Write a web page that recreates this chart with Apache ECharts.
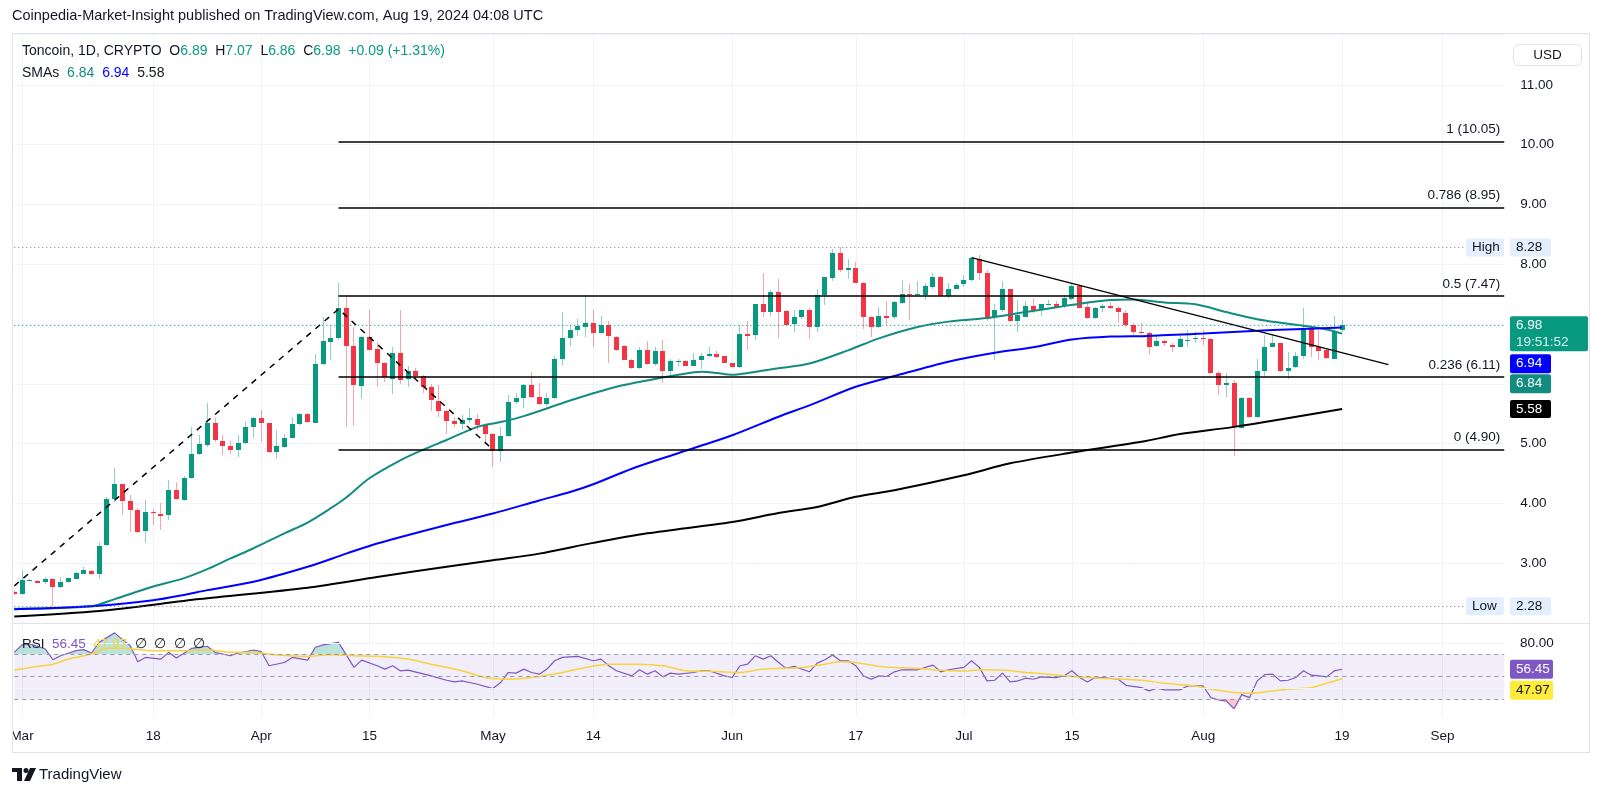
<!DOCTYPE html>
<html><head><meta charset="utf-8">
<script src="https://cdn.jsdelivr.net/npm/echarts@6/dist/echarts.min.js"></script>
<style>html,body{margin:0;padding:0;background:#fff}#c{width:1600px;height:796px}</style>
</head><body><div id="c"></div>
<script>
// ---------- DATA ----------
// day index: 0 = 2024-03-01 ; first candle is day -1 (Feb 29)
const firstDay = -1;
const opens  = [2.52,2.48,2.71,2.71,2.68,2.73,2.60,2.68,2.74,2.83,2.87,2.82,3.30,4.07,4.32,4.04,3.89,3.53,3.85,3.83,3.80,4.22,4.06,4.42,4.82,4.98,5.34,5.05,4.96,4.89,5.00,5.27,5.42,5.34,4.86,4.95,5.10,5.33,5.49,5.35,6.33,6.70,6.76,7.26,6.63,5.97,6.79,6.58,6.34,6.08,6.52,6.08,6.22,6.13,5.94,5.72,5.55,5.38,5.33,5.39,5.41,5.31,5.16,4.88,5.13,5.69,5.76,5.98,5.78,5.66,5.76,6.41,6.76,6.90,6.95,7.01,6.85,6.98,6.79,6.64,6.40,6.26,6.56,6.33,6.55,6.22,6.36,6.38,6.30,6.40,6.47,6.50,6.46,6.34,6.27,6.84,6.81,7.33,7.20,7.54,7.22,6.99,7.11,7.23,6.94,7.48,7.78,8.19,7.91,7.94,7.69,7.12,6.95,7.14,7.11,7.36,7.51,7.49,7.48,7.63,7.79,7.48,7.59,7.66,7.73,8.09,7.86,7.11,7.23,7.58,7.05,7.12,7.30,7.23,7.33,7.34,7.29,7.43,7.64,7.28,7.10,7.26,7.30,7.26,7.19,6.99,6.87,6.85,6.62,6.71,6.65,6.62,6.72,6.74,6.77,6.75,6.18,5.98,6.01,5.27,5.77,5.45,6.22,6.62,6.68,6.22,6.27,6.46,6.93,6.62,6.56,6.42,6.89];
const closes = [2.49,2.72,2.72,2.68,2.73,2.60,2.69,2.75,2.84,2.89,2.82,3.29,4.07,4.32,4.03,3.89,3.53,3.85,3.83,3.80,4.22,4.07,4.43,4.82,4.99,5.34,5.05,4.96,4.89,5.01,5.27,5.42,5.34,4.85,4.96,5.10,5.33,5.49,5.35,6.33,6.71,6.77,7.26,6.63,5.97,6.79,6.58,6.34,6.11,6.52,6.07,6.22,6.13,5.94,5.72,5.55,5.38,5.33,5.40,5.42,5.31,5.16,4.88,5.13,5.70,5.76,5.98,5.78,5.66,5.76,6.41,6.76,6.90,6.97,7.01,6.85,6.99,6.79,6.58,6.40,6.26,6.56,6.33,6.55,6.22,6.38,6.38,6.30,6.40,6.47,6.50,6.45,6.35,6.27,6.83,6.81,7.33,7.20,7.54,7.20,6.99,7.11,7.23,6.94,7.48,7.78,8.19,7.91,7.94,7.69,7.12,6.95,7.13,7.11,7.36,7.51,7.49,7.51,7.63,7.79,7.48,7.59,7.66,7.73,8.10,7.86,7.11,7.23,7.58,7.05,7.15,7.30,7.23,7.33,7.34,7.29,7.43,7.64,7.28,7.10,7.26,7.30,7.26,7.19,6.99,6.87,6.85,6.62,6.71,6.68,6.62,6.75,6.74,6.76,6.75,6.18,5.98,6.01,5.27,5.77,5.45,6.22,6.62,6.68,6.22,6.27,6.46,6.93,6.62,6.56,6.42,6.89,6.98];
const lows   = [2.47,2.46,2.70,2.67,2.66,2.28,2.58,2.67,2.73,2.82,2.80,2.73,3.28,4.03,3.80,3.53,3.50,3.33,3.64,3.55,3.72,4.06,4.04,4.40,4.81,4.94,5.03,4.81,4.82,4.78,4.99,5.10,5.02,4.84,4.74,4.93,5.09,5.31,5.34,5.34,6.31,6.40,6.73,5.28,5.29,5.74,6.56,5.94,6.03,5.83,6.00,5.95,6.09,5.84,5.55,5.45,5.16,5.28,5.23,5.34,5.23,5.00,4.61,4.70,5.11,5.67,5.59,5.76,5.64,5.63,5.74,6.31,6.63,6.80,6.78,6.61,6.83,6.35,6.55,6.39,6.25,6.24,6.31,6.29,6.02,6.09,6.30,6.30,6.30,6.24,6.45,6.44,6.34,6.27,6.27,6.56,6.73,7.12,7.13,6.76,6.98,6.86,7.09,6.75,6.87,7.32,7.72,7.87,7.76,7.68,6.91,6.78,6.94,6.98,7.09,7.34,7.07,7.48,7.40,7.59,7.47,7.43,7.58,7.62,7.72,7.73,7.05,6.40,7.20,7.04,6.87,7.11,7.19,7.14,7.32,7.28,7.26,7.40,7.26,7.09,7.09,7.20,7.25,7.01,6.95,6.81,6.84,6.48,6.61,6.63,6.54,6.61,6.62,6.68,6.65,6.17,5.81,5.78,4.79,5.25,5.42,5.42,6.11,6.61,6.20,6.08,6.26,6.41,6.45,6.40,6.41,6.42,6.86];
const highs  = [2.55,2.88,2.73,2.72,2.77,2.75,2.77,2.76,2.86,2.93,2.89,3.35,4.11,4.60,4.33,4.14,3.93,4.06,3.90,4.00,4.39,4.36,4.46,5.28,5.15,5.68,5.42,5.14,5.05,5.14,5.38,5.45,5.56,5.35,5.23,5.16,5.45,5.52,5.52,6.50,7.11,6.97,7.68,7.48,6.95,6.80,7.23,6.70,6.36,6.62,7.24,6.29,6.26,6.14,6.00,5.98,5.56,5.45,5.48,5.59,5.50,5.32,5.17,5.27,5.81,5.84,5.99,6.20,6.01,5.84,6.46,7.20,6.98,7.08,7.48,7.23,7.13,7.05,6.80,6.65,6.41,6.62,6.72,6.62,6.73,6.42,6.41,6.39,6.51,6.51,6.61,6.55,6.47,6.35,6.99,7.05,7.34,7.86,7.57,7.76,7.23,7.23,7.24,7.26,7.58,7.79,8.26,8.28,8.08,8.04,7.71,7.13,7.28,7.39,7.39,7.73,7.67,7.72,7.68,7.86,7.80,7.68,7.69,7.82,8.11,8.15,7.91,7.34,7.72,7.59,7.40,7.38,7.44,7.34,7.40,7.39,7.48,7.68,7.66,7.37,7.29,7.33,7.37,7.30,7.23,7.02,7.01,6.86,6.80,6.73,6.68,6.81,6.90,6.87,6.90,6.76,6.22,6.18,6.06,5.78,5.78,6.42,6.81,6.84,6.69,6.54,6.54,7.26,6.94,6.90,6.58,7.13,7.07];

// moving averages: [day, value]
const sma50 = [[-1,2.24],[9,2.28],[12,2.40],[17,2.61],[21,2.75],[24,2.90],[27,3.08],[30,3.25],[34,3.50],[37,3.68],[40,3.92],[42,4.10],[45,4.42],[49,4.72],[52,4.90],[55,5.06],[59,5.28],[62,5.36],[65,5.46],[71,5.72],[77,5.95],[82,6.08],[85,6.15],[88,6.20],[90,6.18],[92,6.15],[94,6.18],[98,6.26],[102,6.34],[107,6.56],[111,6.76],[116,6.95],[120,7.04],[125,7.10],[130,7.20],[134,7.28],[137,7.34],[141,7.40],[144,7.41],[148,7.36],[152,7.33],[156,7.20],[160,7.08],[163,7.02],[166,6.97],[169,6.91],[171,6.84]];
const sma100 = [[-1,2.23],[10,2.29],[17,2.38],[21,2.47],[24,2.55],[30,2.69],[37,2.94],[42,3.16],[46,3.33],[55,3.64],[61,3.83],[67,4.05],[71,4.19],[74,4.32],[79,4.58],[85,4.84],[92,5.14],[98,5.45],[102,5.64],[108,5.95],[113,6.13],[120,6.37],[126,6.52],[131,6.61],[136,6.74],[141,6.79],[146,6.80],[153,6.84],[162,6.90],[171,6.94]];
const sma200 = [[-1,2.11],[10,2.20],[23,2.40],[37,2.59],[46,2.77],[55,2.94],[61,3.05],[67,3.16],[74,3.34],[81,3.50],[92,3.69],[98,3.84],[103,3.94],[108,4.11],[113,4.22],[122,4.47],[128,4.67],[136,4.85],[145,5.03],[150,5.16],[157,5.28],[171,5.58]];

// RSI and its MA: [day, value]
const rsiPts = [[-1,71.5],[0,78.1],[1,79.0],[2,76.9],[3,74.5],[4,64.9],[5,68.5],[7,73.0],[8,73.9],[9,70.9],[10,80.4],[12,88.8],[13,82.8],[14,77.5],[15,63.1],[16,67.0],[18,65.5],[19,71.5],[20,66.4],[22,75.1],[24,76.9],[25,71.5],[27,68.5],[28,70.9],[30,73.6],[31,72.1],[32,59.6],[34,62.5],[35,67.0],[37,64.6],[38,76.0],[39,78.1],[41,80.4],[43,58.1],[44,64.6],[46,59.6],[47,56.6],[48,59.6],[49,55.1],[50,55.7],[53,50.6],[55,46.7],[56,45.2],[57,46.1],[59,43.1],[61,39.3],[62,44.6],[63,53.6],[64,53.0],[65,56.6],[66,53.6],[67,52.1],[68,56.6],[69,64.0],[70,67.0],[72,67.9],[74,64.0],[75,65.5],[76,59.6],[77,55.1],[79,50.6],[80,56.0],[81,52.1],[82,55.1],[83,49.7],[84,53.0],[85,52.1],[87,53.6],[88,55.1],[89,55.1],[91,50.6],[92,49.1],[93,59.6],[94,61.0],[95,68.5],[96,65.5],[97,68.5],[98,62.5],[99,57.2],[100,59.0],[102,54.2],[103,61.9],[104,64.9],[105,69.1],[106,64.0],[107,64.0],[108,59.6],[109,50.6],[110,47.6],[111,50.6],[112,50.0],[113,54.2],[114,56.0],[116,56.0],[118,60.1],[119,54.2],[120,56.0],[122,58.1],[123,64.0],[124,58.1],[125,46.1],[126,46.7],[127,53.0],[128,45.2],[129,46.1],[130,48.5],[131,47.6],[132,49.7],[134,49.1],[135,50.6],[136,55.1],[137,49.1],[138,45.2],[139,49.1],[140,49.1],[142,47.6],[143,42.2],[145,40.1],[146,37.2],[147,39.6],[148,38.1],[150,38.1],[151,41.6],[153,41.6],[154,31.2],[155,29.1],[156,28.2],[157,21.3],[158,33.9],[159,31.2],[160,46.1],[161,51.8],[162,52.1],[163,46.1],[164,46.7],[165,49.1],[166,55.1],[167,51.2],[168,50.6],[169,49.7],[170,55.1],[171,56.45]];
const rsiMaPts = [[-1,55.7],[1,58.1],[4,61.0],[6,65.5],[9,70.0],[11,75.1],[13,75.1],[17,73.0],[21,73.0],[24,73.9],[27,71.5],[30,71.5],[33,69.1],[37,67.9],[40,69.4],[43,68.5],[47,67.6],[50,65.5],[53,61.0],[57,55.1],[60,49.1],[63,47.6],[66,49.1],[70,53.6],[73,58.1],[76,61.0],[80,61.0],[83,59.6],[86,55.1],[90,54.5],[93,53.6],[96,56.6],[101,58.1],[104,61.0],[106,63.1],[108,62.5],[111,59.0],[116,57.2],[118,56.0],[122,54.8],[124,56.0],[127,55.7],[130,53.6],[133,52.1],[135,50.6],[138,49.1],[141,48.2],[145,46.7],[148,44.0],[152,41.6],[154,38.7],[157,35.7],[159,35.1],[162,37.2],[164,38.7],[167,40.1],[169,44.0],[171,47.97]];

// fib levels and drawings
const fibLevels = [1, 0.786, 0.5, 0.236, 0];
const fibPrices = [10.05, 8.95, 7.47, 6.11, 4.90];
const fibStartDay = 41;
const zigzag = [[-1,2.62],[41,7.25],[61,4.90]];
const trendLine = [[123,8.11],[177,6.32]];
const highPrice = 8.28, lowPrice = 2.28, lastPrice = 6.98;

// axis ticks
const tickDays = [0,17,31,45,61,74,92,108,122,136,153,171,184];
const tickLabels = ['Mar','18','Apr','15','May','14','Jun','17','Jul','15','Aug','19','Sep'];
const priceTickLabels = [3,4,5,8,9,10,11];
const lastDay = 192;

// ---------- BUILD ----------
const FONT = '"Liberation Sans", Arial, sans-serif';
const TXT = '#131722';
const UP = '#089981', DOWN = '#F23645';
const UPW = 'rgba(8,153,129,0.45)', DOWNW = 'rgba(242,54,69,0.45)';
const TEAL = '#138c80', BLUE = '#0000ff';
const ci = d => d - firstDay;
const cats = [];
for (let d = firstDay; d <= lastDay; d++) {
  const dt = new Date(Date.UTC(2024, 2, 1 + d));
  cats.push(dt.toISOString().slice(0, 10));
}
const tickIdx = {};
tickDays.forEach((d, i) => { tickIdx[ci(d)] = tickLabels[i]; });
const isTick = idx => tickIdx[idx] !== undefined;

const candleData = opens.map((o, i) => [i, o, closes[i], lows[i], highs[i]]);
const toXY = arr => arr.map(([d, v]) => [ci(d), v]);

function renderCandle(params, api) {
  const xi = api.value(0), o = api.value(1), c = api.value(2), l = api.value(3), h = api.value(4);
  const pO = api.coord([xi, o]), pC = api.coord([xi, c]);
  const pL = api.coord([xi, l]), pH = api.coord([xi, h]);
  const up = c >= o;
  const r = Math.round(pO[0] - 0.5);
  const top = Math.round(Math.min(pO[1], pC[1]));
  const bh = Math.max(Math.round(Math.abs(pO[1] - pC[1])), 1);
  return {
    type: 'group', children: [
      { type: 'line', shape: { x1: r + 0.5, y1: Math.round(pH[1]), x2: r + 0.5, y2: Math.round(pL[1]) },
        style: { stroke: up ? UPW : DOWNW, lineWidth: 1 } },
      { type: 'rect', shape: { x: r - 2, y: top, width: 5, height: bh },
        style: { fill: up ? UP : DOWN } }
    ]
  };
}

const fibMark = fibLevels.map((lv, i) => [
  { coord: [ci(fibStartDay), fibPrices[i]], name: lv + ' (' + fibPrices[i].toFixed(2) + ')',
    lineStyle: { color: '#000', width: 1.5, type: 'solid' } },
  { coord: [ci(lastDay), fibPrices[i]], lineStyle: { color: '#000', width: 1.5, type: 'solid' } }
]);

const gridL = 14.28, gridW = 1489.96;
const option = {
  animation: false,
  textStyle: { fontFamily: FONT },
  grid: [
    { left: gridL, width: gridW, top: 34, height: 589 },
    { left: gridL, width: gridW, top: 624, height: 92 }
  ],
  xAxis: [
    { type: 'category', gridIndex: 0, data: cats, boundaryGap: false,
      axisLine: { show: false }, axisTick: { show: false }, axisLabel: { show: false },
      splitLine: { show: true, interval: (i) => isTick(i), lineStyle: { color: '#f0f3fa', width: 1 } } },
    { type: 'category', gridIndex: 1, data: cats, boundaryGap: false,
      axisLine: { show: false }, axisTick: { show: false },
      axisLabel: { show: true, interval: (i) => isTick(i), formatter: (v, i) => tickIdx[i] || '',
        color: TXT, fontSize: 13.5, fontFamily: FONT, margin: 13 },
      splitLine: { show: true, interval: (i) => isTick(i), lineStyle: { color: '#f0f3fa', width: 1 } } }
  ],
  yAxis: [
    { type: 'value', gridIndex: 0, position: 'right', min: 2, max: 11.85, interval: 1,
      axisLine: { show: false }, axisTick: { show: false },
      axisLabel: { formatter: v => priceTickLabels.indexOf(v) >= 0 ? v.toFixed(2) : '',
        color: TXT, fontSize: 13.5, fontFamily: FONT, margin: 16, showMaxLabel: false, showMinLabel: false },
      splitLine: { lineStyle: { color: '#f0f3fa', width: 1 } } },
    { type: 'value', gridIndex: 1, position: 'right', min: 14.9, max: 96.7,
      axisLine: { show: false }, axisTick: { show: false }, axisLabel: { show: false },
      splitLine: { show: false } }
  ],
  visualMap: [{
    type: 'piecewise', show: false, seriesIndex: 7, dimension: 1,
    pieces: [
      { gt: 70, color: 'rgba(8,153,129,0.28)' },
      { gte: 30, lte: 70, color: 'rgba(255,255,255,0)' },
      { lt: 30, color: 'rgba(242,54,69,0.28)' }
    ]
  }],
  series: [
    { name: 'candles', type: 'custom', xAxisIndex: 0, yAxisIndex: 0, clip: true,
      renderItem: renderCandle, encode: { x: 0, y: [1, 2, 3, 4] }, data: candleData, z: 2 },
    { name: 'SMA50', type: 'line', xAxisIndex: 0, yAxisIndex: 0, data: toXY(sma50), smooth: 0.3,
      symbol: 'none', lineStyle: { color: TEAL, width: 2 }, z: 3 },
    { name: 'SMA100', type: 'line', xAxisIndex: 0, yAxisIndex: 0, data: toXY(sma100), smooth: 0.3,
      symbol: 'none', lineStyle: { color: BLUE, width: 2 }, z: 3,
      markLine: { silent: true, symbol: ['none', 'none'], label: { show: false },
        data: [
          { yAxis: highPrice, lineStyle: { color: '#787b86', width: 1, type: [1, 3] } },
          { yAxis: lowPrice, lineStyle: { color: '#787b86', width: 1, type: [1, 3] } },
          { yAxis: lastPrice, lineStyle: { color: UP, width: 1, type: [1, 3] } }
        ] } },
    { name: 'SMA200', type: 'line', xAxisIndex: 0, yAxisIndex: 0, data: toXY(sma200), smooth: 0.3,
      symbol: 'none', lineStyle: { color: '#000', width: 2 }, z: 3,
      markLine: { silent: true, symbol: ['none', 'none'],
        label: { show: true, position: 'insideEndTop', formatter: '{b}', color: TXT, fontSize: 13.5, fontFamily: FONT, distance: [4, 5] },
        data: fibMark } },
    { name: 'zigzag', type: 'line', xAxisIndex: 0, yAxisIndex: 0, data: toXY(zigzag),
      symbol: 'none', lineStyle: { color: '#000', width: 1.5, type: [6, 6] }, z: 4 },
    { name: 'trend', type: 'line', xAxisIndex: 0, yAxisIndex: 0, data: toXY(trendLine),
      symbol: 'none', lineStyle: { color: '#000', width: 1.3 }, z: 4 },
    { name: 'RSI', type: 'line', xAxisIndex: 1, yAxisIndex: 1, data: toXY(rsiPts),
      symbol: 'none', lineStyle: { color: '#7E57C2', width: 1.2 }, z: 4,
      markArea: { silent: true, itemStyle: { color: 'rgba(126,87,194,0.1)' }, data: [[{ yAxis: 30 }, { yAxis: 70 }]] },
      markLine: { silent: true, symbol: ['none', 'none'], label: { show: false },
        data: [
          { yAxis: 80, lineStyle: { color: '#f0f3fa', width: 1, type: 'solid' } },
          { yAxis: 40, lineStyle: { color: '#f0f3fa', width: 1, type: 'solid' } },
          { yAxis: 70, lineStyle: { color: '#9598a1', width: 1, type: [4, 4] } },
          { yAxis: 50, lineStyle: { color: '#9598a1', width: 1, type: [4, 4] } },
          { yAxis: 30, lineStyle: { color: '#9598a1', width: 1, type: [4, 4] } }
        ] } },
    { name: 'RSIfill', type: 'line', xAxisIndex: 1, yAxisIndex: 1, data: toXY(rsiPts),
      symbol: 'none', lineStyle: { width: 0, opacity: 0 }, areaStyle: { origin: 50, opacity: 1 }, z: 3 },
    { name: 'RSI MA', type: 'line', xAxisIndex: 1, yAxisIndex: 1, data: toXY(rsiMaPts), smooth: 0.3,
      symbol: 'none', lineStyle: { color: '#F7D33F', width: 1.5 }, z: 4 }
  ]
};

const chart = echarts.init(document.getElementById('c'));
chart.setOption(option);

// ---------- annotations (labels, boxes) ----------
const yP = v => chart.convertToPixel({ yAxisIndex: 0 }, v);
const yR = v => chart.convertToPixel({ yAxisIndex: 1 }, v);
const g = [];
const frame = '#e0e3eb';
function hline(x1, x2, y, c) { g.push({ type: 'line', shape: { x1, y1: y, x2, y2: y }, style: { stroke: c || frame, lineWidth: 1 }, z: 50 }); }
function vline(x, y1, y2, c) { g.push({ type: 'line', shape: { x1: x, y1, x2: x, y2 }, style: { stroke: c || frame, lineWidth: 1 }, z: 50 }); }
function text(t, x, y, opts) {
  g.push({ type: 'text', x, y, z: 60, style: Object.assign({ text: t, fill: TXT, fontSize: 13.5, fontFamily: FONT,
    align: 'left', verticalAlign: 'middle' }, opts || {}) });
}
function box(x, y, w, h, fill, t, tc, opts) {
  g.push({ type: 'rect', shape: { x, y, width: w, height: h, r: 2 }, style: Object.assign({ fill }, opts || {}), z: 55 });
  if (t) text(t, x + 6, y + h / 2, { fill: tc });
}
// mask left of frame (clips first time label like the reference)
g.push({ type: 'rect', shape: { x: 0, y: 716, width: 12, height: 36 }, style: { fill: '#fff' }, z: 45 });
// frame
hline(12, 1590, 33.5); hline(12, 1590, 623.5); hline(12, 1590, 752.5);
vline(12.5, 33, 753); vline(1589.5, 33, 753);

// title + legends
text('Coinpedia-Market-Insight published on TradingView.com, Aug 19, 2024 04:08 UTC', 12, 16, { fontSize: 14.5 });
g.push({ type: 'text', x: 22, y: 51, z: 60, style: {
  text: 'Toncoin, 1D, CRYPTO  O{g|6.89}  H{g|7.07}  L{g|6.86}  C{g|6.98}  {g|+0.09 (+1.31%)}',
  fill: TXT, fontSize: 14, fontFamily: FONT, verticalAlign: 'middle',
  rich: { g: { fill: UP, fontSize: 14, fontFamily: FONT } } } });
g.push({ type: 'text', x: 22, y: 73, z: 60, style: {
  text: 'SMAs  {t|6.84}  {b|6.94}  5.58', fill: TXT, fontSize: 14, fontFamily: FONT, verticalAlign: 'middle',
  rich: { t: { fill: TEAL, fontSize: 14, fontFamily: FONT }, b: { fill: BLUE, fontSize: 14, fontFamily: FONT } } } });
g.push({ type: 'text', x: 22, y: 644, z: 60, style: {
  text: 'RSI  {p|56.45}  {y|47.97}  ∅  ∅  ∅  ∅', fill: TXT, fontSize: 13.5, fontFamily: FONT, verticalAlign: 'middle',
  rich: { p: { fill: '#7E57C2', fontSize: 13.5, fontFamily: FONT }, y: { fill: '#F7D33F', fontSize: 13.5, fontFamily: FONT } } } });

// USD box
g.push({ type: 'rect', shape: { x: 1513.5, y: 44.5, width: 68, height: 21, r: 5 }, style: { fill: '#fff', stroke: frame, lineWidth: 1 }, z: 55 });
text('USD', 1547.5, 55, { align: 'center' });

// High / Low tags
const yH = yP(highPrice), yL = yP(lowPrice);
box(1466, yH - 9, 38, 18, '#e3effd', 'High', TXT);
box(1510, yH - 9, 41, 18, '#e3effd', highPrice.toFixed(2), TXT);
box(1466, yL - 9, 38, 18, '#e3effd', 'Low', TXT);
box(1510, yL - 9, 41, 18, '#e3effd', lowPrice.toFixed(2), TXT);

// current price + SMA tags
const yC = yP(lastPrice);
g.push({ type: 'rect', shape: { x: 1510, y: yC - 9, width: 78, height: 35, r: 2 }, style: { fill: UP }, z: 55 });
text(lastPrice.toFixed(2), 1516, yC, { fill: '#fff' });
text('19:51:52', 1516, yC + 17, { fill: 'rgba(255,255,255,0.85)' });
const t1 = yC - 9 + 35 + 3;
box(1510, t1, 41, 19, BLUE, '6.94', '#fff');
box(1510, t1 + 20, 41, 19, TEAL, '6.84', '#fff');
const y558 = yP(5.58);
box(1510, y558 - 9, 41, 18, '#000', '5.58', '#fff');

// RSI axis
text('80.00', 1520, yR(80));
const yRs = yR(56.45);
box(1510, yRs - 9.5, 43, 19, '#7E57C2', '56.45', '#fff');
box(1510, yRs + 11.5, 43, 19, '#FFEB3B', '47.97', TXT);

// TradingView logo
g.push({ type: 'rect', shape: { x: 12, y: 768, width: 10, height: 4 }, style: { fill: TXT }, z: 60 });
g.push({ type: 'rect', shape: { x: 17, y: 768, width: 5, height: 13 }, style: { fill: TXT }, z: 60 });
g.push({ type: 'circle', shape: { cx: 26, cy: 770.5, r: 2.5 }, style: { fill: TXT }, z: 60 });
g.push({ type: 'polygon', shape: { points: [[30, 768], [36, 768], [30, 781], [24, 781]] }, style: { fill: TXT }, z: 60 });
text('TradingView', 39, 775, { fontSize: 15 });

chart.setOption({ graphic: g });
</script>
</body></html>
